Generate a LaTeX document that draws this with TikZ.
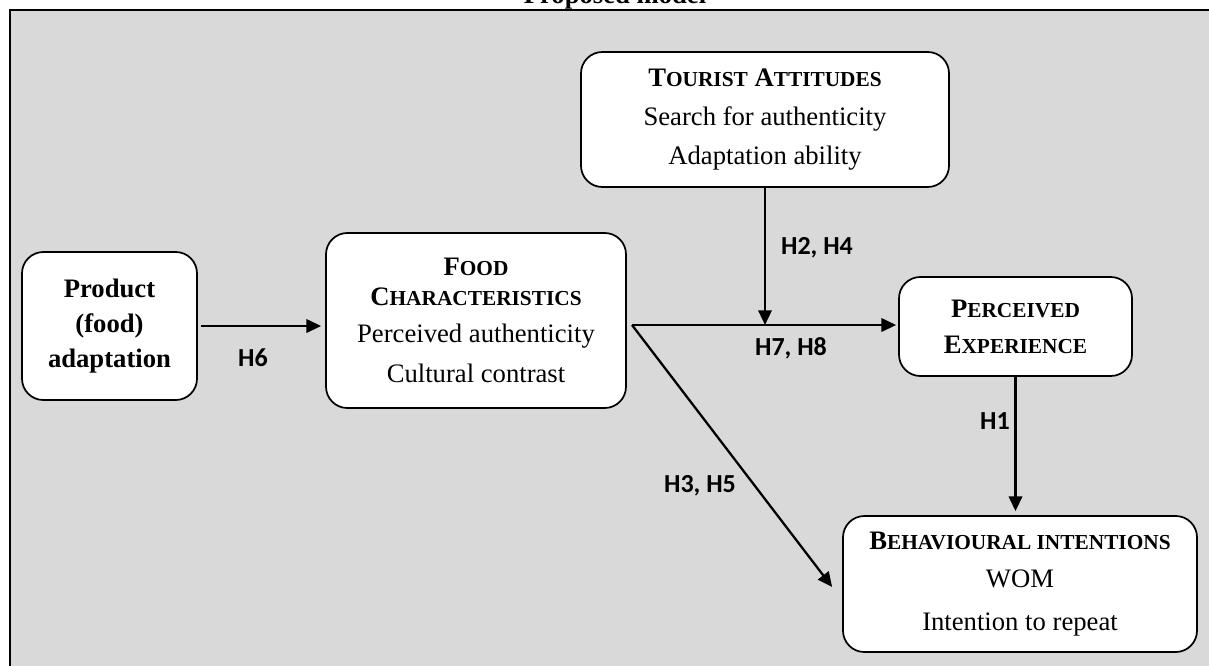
\documentclass[tikz,border=0pt]{standalone}
\usepackage{fontspec}
\setmainfont{Liberation Serif}
\newfontfamily\lblfont{Carlito}
\usetikzlibrary{arrows.meta,calc}
\newcommand{\smc}[1]{{\fontsize{16pt}{16pt}\selectfont #1}}
\begin{document}
\begin{tikzpicture}[x=0.75pt,y=-0.75pt,
  box/.style={draw=black, line width=1.3pt, fill=white, rounded corners=16pt,
    align=center, inner sep=0pt, font=\fontsize{20pt}{29pt}\selectfont},
  lbl/.style={font=\lblfont\bfseries\fontsize{19.5pt}{20pt}\selectfont, inner sep=0pt},
  arr/.style={line width=1.7pt, -{Triangle[length=11pt,width=10pt]}}]
\useasboundingbox (0,0) rectangle (1209,665);
\clip (0,0) rectangle (1209,665);
\draw[line width=2pt, fill=black!15] (10,10) rectangle (1240,700);
\node[font=\bfseries\fontsize{20pt}{20pt}\selectfont, anchor=base] (title) at (615,3) {Proposed model};

\node[box, minimum width=131.25pt, minimum height=111pt, font=\bfseries\fontsize{20pt}{29pt}\selectfont] (prod) at (109.5,326)
  {Product\\[-3pt](food)\\[-3pt]adaptation};
\node[box, minimum width=225pt, minimum height=131.25pt] (food) at (476,320.5)
  {\textbf{F\smc{OOD}}\\[-6.5pt]\textbf{C\smc{HARACTERISTICS}}\\[-1.3pt]Perceived authenticity\\[1pt]Cultural contrast};
\node[box, minimum width=276pt, minimum height=101.25pt] (tour) at (765,119.5)
  {\textbf{T\smc{OURIST} A\smc{TTITUDES}}\\Search for authenticity\\Adaptation ability};
\node[box, minimum width=174.75pt, minimum height=74.25pt] (perc) at (1015.5,326.5)
  {\textbf{P\smc{ERCEIVED}}\\[-2pt]\textbf{E\smc{XPERIENCE}}};
\node[box, minimum width=265.5pt, minimum height=102pt] (behav) at (1020,584)
  {\textbf{B\smc{EHAVIOURAL INTENTIONS}}\\WOM\\[3pt]Intention to repeat};

\coordinate (split) at (632,325);
\coordinate (mod) at (765,325);

\draw[arr, shorten <=2pt, shorten >=3pt] (prod.east |- 0,326) -- (food.west |- 0,326);
\draw[arr, shorten >=1.5pt] (split) -- (perc.west |- split);
\draw[arr] (tour.south) -- (mod);
\draw[arr] (split) -- ($(behav.west)+(-10,3)$);
\draw[arr, shorten >=3pt] (perc.south) -- (perc.south |- behav.north);

\node[lbl] (h6) at (253,358) {H6};
\node[lbl] (h24) at (817,248) {H2, H4};
\node[lbl] (h78) at (791,348) {H7, H8};
\node[lbl] (h35) at (700,486) {H3, H5};
\node[lbl] (h1) at (995,421) {H1};
\end{tikzpicture}
\end{document}
